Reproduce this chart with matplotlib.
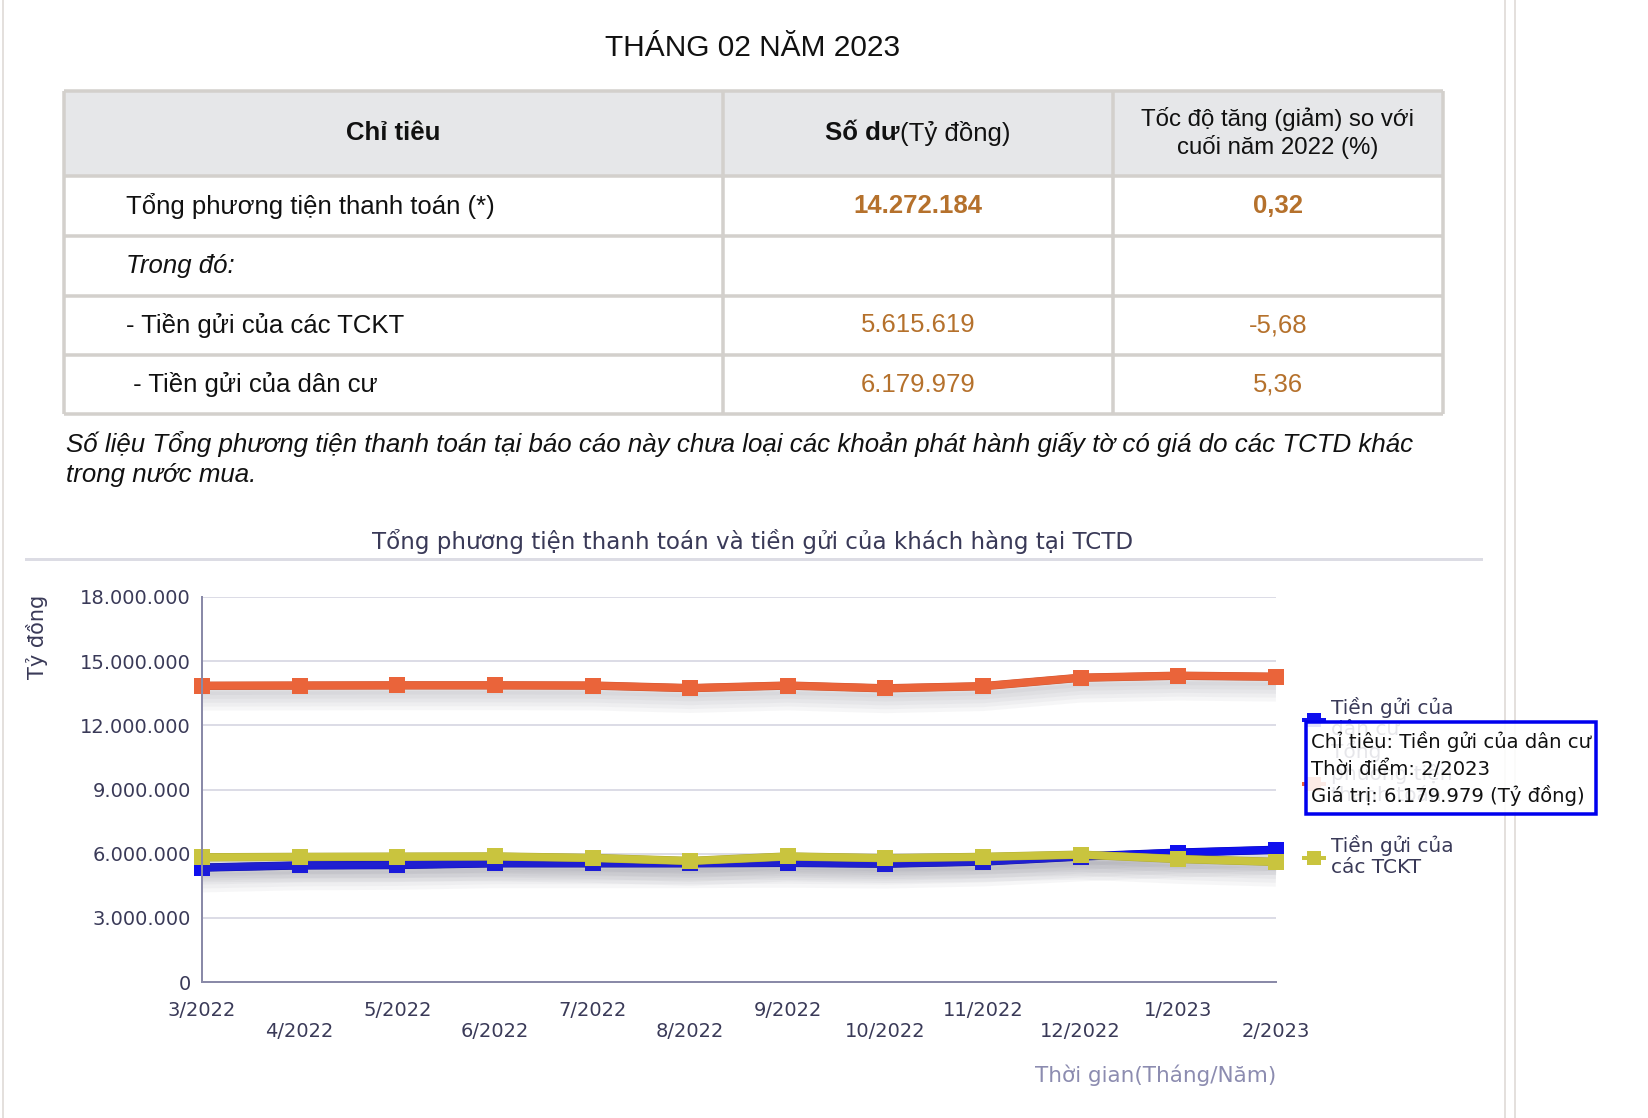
import matplotlib
matplotlib.use("Agg")
import matplotlib.pyplot as plt
import matplotlib.patheffects as pe
from matplotlib.patches import Rectangle

# du lieu bang
chi_tieu = ["Tổng phương tiện thanh toán (*)", "Trong đó:",
            "- Tiền gửi của các TCKT", " - Tiền gửi của dân cư"]
so_du = ["14.272.184", "", "5.615.619", "6.179.979"]
toc_do = ["0,32", "", "-5,68", "5,36"]

# du lieu bieu do (Tỷ đồng)
thang = ["3/2022", "4/2022", "5/2022", "6/2022", "7/2022", "8/2022",
         "9/2022", "10/2022", "11/2022", "12/2022", "1/2023", "2/2023"]
tong_pttt = [13850000, 13860000, 13870000, 13870000, 13860000, 13740000,
             13860000, 13730000, 13830000, 14227000, 14320000, 14272184]
tien_gui_dan_cu = [5350000, 5450000, 5470000, 5550000, 5550000, 5550000,
                   5570000, 5530000, 5630000, 5866000, 6050000, 6179979]
tien_gui_tckt = [5830000, 5850000, 5860000, 5870000, 5800000, 5660000,
                 5870000, 5790000, 5850000, 5954000, 5750000, 5615619]
y_ticks = [0, 3000000, 6000000, 9000000, 12000000, 15000000, 18000000]

W, H = 1648, 1118
PX = 0.72  # px -> pt

TABLE_FONT = "Liberation Sans"
CHART_FONT = "DejaVu Sans"
border = "#d3d0cc"
val_color = "#b5712c"
txt_chart = "#3a3a58"


def vn(v):
    return f"{v:,.0f}".replace(",", ".")


fig = plt.figure(figsize=(W / 100, H / 100), dpi=100)
bg = fig.add_axes([0, 0, 1, 1])
bg.set_xlim(0, W)
bg.set_ylim(H, 0)
bg.axis("off")

# vien trang
bg.plot([3, 3], [0, H], color="#e4e0dd", lw=2 * PX)
bg.plot([1505, 1505], [0, H], color="#e4e0dd", lw=2 * PX)
bg.plot([1515, 1515], [0, H], color="#e4e0dd", lw=2 * PX)

bg.text(753, 48, "THÁNG 02 NĂM 2023", ha="center", va="center",
        fontsize=21.5, family=TABLE_FONT, color="#111111")

# bang
x0, x1, x2, x3 = 64, 723, 1113, 1443
rows = [91, 176, 236, 296, 355, 414]
bg.add_patch(Rectangle((x0, rows[0]), x3 - x0, rows[1] - rows[0],
                       facecolor="#e6e7e9", edgecolor="none"))
for y in rows:
    bg.plot([x0, x3], [y, y], color=border, lw=3.5 * PX, solid_capstyle="butt")
for x in (x0, x1, x2, x3):
    bg.plot([x, x], [rows[0], rows[-1]], color=border, lw=3.5 * PX,
            solid_capstyle="butt")

fs_t = 18.5
bg.text((x0 + x1) / 2, 133, "Chỉ tiêu", ha="center", va="center",
        fontsize=fs_t, family=TABLE_FONT, weight="bold", color="#111111")
bg.text(900, 133, "Số dư", ha="right", va="center", fontsize=fs_t,
        family=TABLE_FONT, weight="bold", color="#111111")
bg.text(900, 133, "(Tỷ đồng)", ha="left", va="center", fontsize=fs_t,
        family=TABLE_FONT, color="#111111")
bg.text(1278, 133, "Tốc độ tăng (giảm) so với\ncuối năm 2022 (%)",
        ha="center", va="center", fontsize=17.3, family=TABLE_FONT,
        color="#111111", linespacing=1.2)

for i in range(4):
    yc = (rows[i + 1] + rows[i + 2]) / 2
    bold = "bold" if i == 0 else "normal"
    style = "italic" if i == 1 else "normal"
    bg.text(126, yc, chi_tieu[i], ha="left", va="center", fontsize=fs_t,
            family=TABLE_FONT, style=style, color="#111111")
    bg.text((x1 + x2) / 2, yc, so_du[i], ha="center", va="center",
            fontsize=fs_t, family=TABLE_FONT, weight=bold, color=val_color)
    bg.text((x2 + x3) / 2, yc, toc_do[i], ha="center", va="center",
            fontsize=fs_t, family=TABLE_FONT, weight=bold, color=val_color)

bg.text(66, 444, "Số liệu Tổng phương tiện thanh toán tại báo cáo này chưa loại "
        "các khoản phát hành giấy tờ có giá do các TCTD khác",
        ha="left", va="center", fontsize=18.65, family=TABLE_FONT,
        style="italic", color="#111111")
bg.text(66, 475, "trong nước mua.", ha="left", va="center", fontsize=18.65,
        family=TABLE_FONT, style="italic", color="#111111")

# tieu de bieu do
bg.text(753, 541, "Tổng phương tiện thanh toán và tiền gửi của khách hàng tại TCTD",
        ha="center", va="center", fontsize=16.6, family=CHART_FONT,
        color=txt_chart)
bg.plot([26, 1481], [559, 559], color="#dcdce4", lw=3 * PX)

# bieu do
L, R, T, B = 202, 1276, 597, 982
ax = fig.add_axes([L / W, 1 - B / H, (R - L) / W, (B - T) / H])
ax.set_facecolor("none")
ax.set_xlim(0, len(thang) - 1)
ax.set_ylim(0, 18000000)
ax.set_yticks(y_ticks)
ax.set_yticklabels([vn(v) for v in y_ticks])
ax.set_xticks(range(len(thang)))
ax.set_xticklabels([t if i % 2 == 0 else "\n" + t for i, t in enumerate(thang)],
                   linespacing=1.15)
ax.tick_params(axis="both", length=0, labelsize=14, labelcolor=txt_chart)
ax.tick_params(axis="y", pad=8)
ax.tick_params(axis="x", pad=13.5)
for lab in ax.get_xticklabels() + ax.get_yticklabels():
    lab.set_family(CHART_FONT)
ax.grid(axis="y", color="#dcdce6", lw=2 * PX)
ax.set_axisbelow(True)
for s in ("top", "right"):
    ax.spines[s].set_visible(False)
for s in ("left", "bottom"):
    ax.spines[s].set_color("#8a8aa8")
    ax.spines[s].set_linewidth(2 * PX)
    ax.spines[s].set_zorder(5)


def shadow():
    return [pe.SimpleLineShadow(offset=(0, -o), shadow_color="#606070",
                                alpha=0.05, linewidth=5 + o * 0.8)
            for o in (3, 5, 7, 9, 11)]


series = [
    (tong_pttt, "#ea643a", "#c9502c", 3),
    (tien_gui_dan_cu, "#1010ee", "#0000b0", 3),
    (tien_gui_tckt, "#c9c43e", "#aaa630", 4),
]
x = list(range(len(thang)))
for vals, col, dark, z in series:
    ax.plot(x, vals, color=col, lw=5.5, zorder=z, solid_joinstyle="round",
            solid_capstyle="butt",
            path_effects=shadow() + [pe.Stroke(linewidth=6, foreground=dark),
                                     pe.Normal()],
            clip_on=False)
    ax.plot(x, vals, ls="none", marker="s", ms=11, color=col, mew=0,
            zorder=z + 0.5, clip_on=False)

bg.text(37, 637, "Tỷ đồng", rotation=90, ha="center", va="center",
        fontsize=15, family=CHART_FONT, color=txt_chart)
bg.text(1276, 1075, "Thời gian(Tháng/Năm)", ha="right", va="center",
        fontsize=15.5, family=CHART_FONT, color="#8c8cb0")

# chu giai
legend_items = [
    ("Tiền gửi của\ndân cư", "#1010ee", 720, 709),
    ("Tổng\nphương tiện\nthanh toán", "#ea643a", 784, 753),
    ("Tiền gửi của\ncác TCKT", "#c9c43e", 858, 847),
]
for lbl, col, ym, yt in legend_items:
    bg.plot([1304, 1324], [ym, ym], color=col, lw=4 * PX)
    bg.plot([1314], [ym], marker="s", ms=10, color=col, mew=0)
    bg.text(1331, yt - 12, lbl, ha="left", va="top", fontsize=14.5,
            family=CHART_FONT, color=txt_chart, linespacing=1.12)

# tooltip
bg.add_patch(Rectangle((1306, 722), 290, 92, facecolor="white", alpha=0.88,
                       edgecolor="none", zorder=6))
bg.add_patch(Rectangle((1306, 722), 290, 92, facecolor="none",
                       edgecolor="#0000ee", lw=3.5 * PX, zorder=7))
tip = ["Chỉ tiêu: Tiền gửi của dân cư", "Thời điểm: 2/2023",
       "Giá trị: " + vn(tien_gui_dan_cu[-1]) + " (Tỷ đồng)"]
for i, s in enumerate(tip):
    bg.text(1311, 742 + i * 27, s, ha="left", va="center", fontsize=14.1,
            family=CHART_FONT, color="#111111", zorder=8)

fig.savefig("out.png", dpi=100)
